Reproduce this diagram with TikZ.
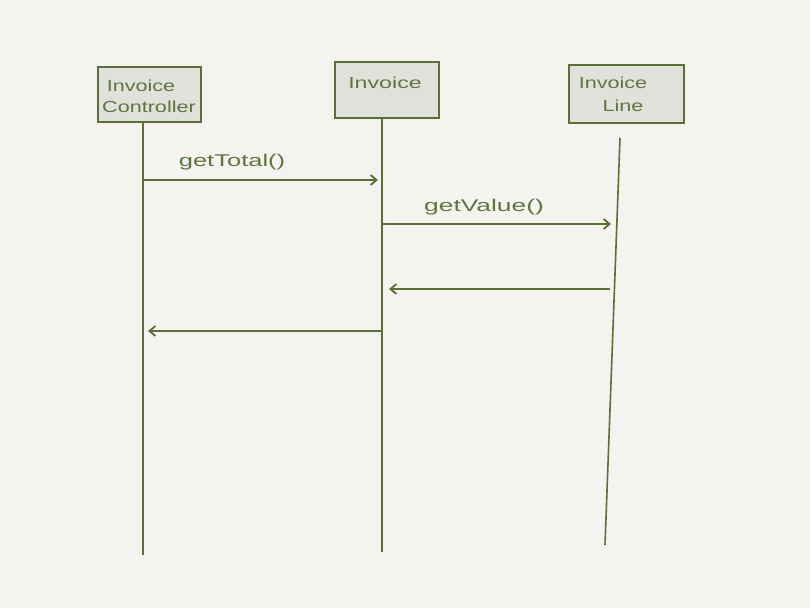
\documentclass[tikz,border=0pt]{standalone}
\usepackage{fontspec}
\setmainfont{Liberation Sans}
\usetikzlibrary{arrows.meta}
\definecolor{bg}{HTML}{F4F3F0}
\definecolor{boxfill}{HTML}{E0E1DA}
\definecolor{ink}{HTML}{5A7037}
\definecolor{txt}{HTML}{5F7540}
\newcommand{\hw}[2]{\scalebox{#1}[1]{#2}}
\tikzset{
  obj/.style={draw=ink, fill=boxfill, line width=1.6pt, inner sep=0pt},
  otxt/.style={text=txt, font=\fontsize{16}{16}\selectfont, inner sep=0pt},
  life/.style={draw=ink, line width=1.6pt},
  msg/.style={draw=ink, line width=1.8pt, -{Straight Barb[length=6pt,width=10pt,line width=1.8pt]}},
  lbl/.style={text=txt, font=\fontsize{17}{17}\selectfont, inner sep=0pt}
}
\begin{document}
\begin{tikzpicture}[x=1pt,y=-1pt]
\fill[bg] (0,0) rectangle (810,608);
\useasboundingbox (0,0) rectangle (810,608);
% objects
\node[obj, minimum width=103pt, minimum height=55pt] (ic) at (149.5,94.5) {};
\node[obj, minimum width=104pt, minimum height=56pt] (inv) at (387,90) {};
\node[obj, minimum width=115pt, minimum height=58pt] (il) at (626.5,94) {};
\node[otxt] (ict1) at (141,86) {\hw{1.35}{Invoice}};
\node[otxt] (ict2) at (149,107) {\hw{1.35}{Controller}};
\node[otxt] (invt) at (385,83) {\hw{1.45}{Invoice}};
\node[otxt] (ilt1) at (613,83) {\hw{1.35}{Invoice}};
\node[otxt] (ilt2) at (623,106) {\hw{1.35}{Line}};
% lifeline end points
\coordinate (icend) at (143,555);
\coordinate (invend) at (382,552);
\coordinate (iltop) at (620,138);
\coordinate (ilend) at (605,545);
\draw[life] (ic.south -| icend) -- (icend);
\draw[life] (inv.south -| invend) -- (invend);
\draw[life] (iltop) -- (ilend);
% message points
\coordinate (m1s) at (143,180);
\coordinate (m1e) at (378,180);
\coordinate (m2s) at (382,224);
\coordinate (m2e) at (611,224);
\coordinate (m3s) at (610,289);
\coordinate (m3e) at (389,289);
\coordinate (m4s) at (382,331);
\coordinate (m4e) at (148,331);
\draw[msg] (m1s) -- (m1e);
\draw[msg] (m2s) -- (m2e);
\draw[msg] (m3s) -- (m3e);
\draw[msg] (m4s) -- (m4e);
\node[lbl] (l1) at (232,162) {\hw{1.5}{getTotal()}};
\node[lbl] (l2) at (484,207) {\hw{1.55}{getValue()}};
\end{tikzpicture}
\end{document}
